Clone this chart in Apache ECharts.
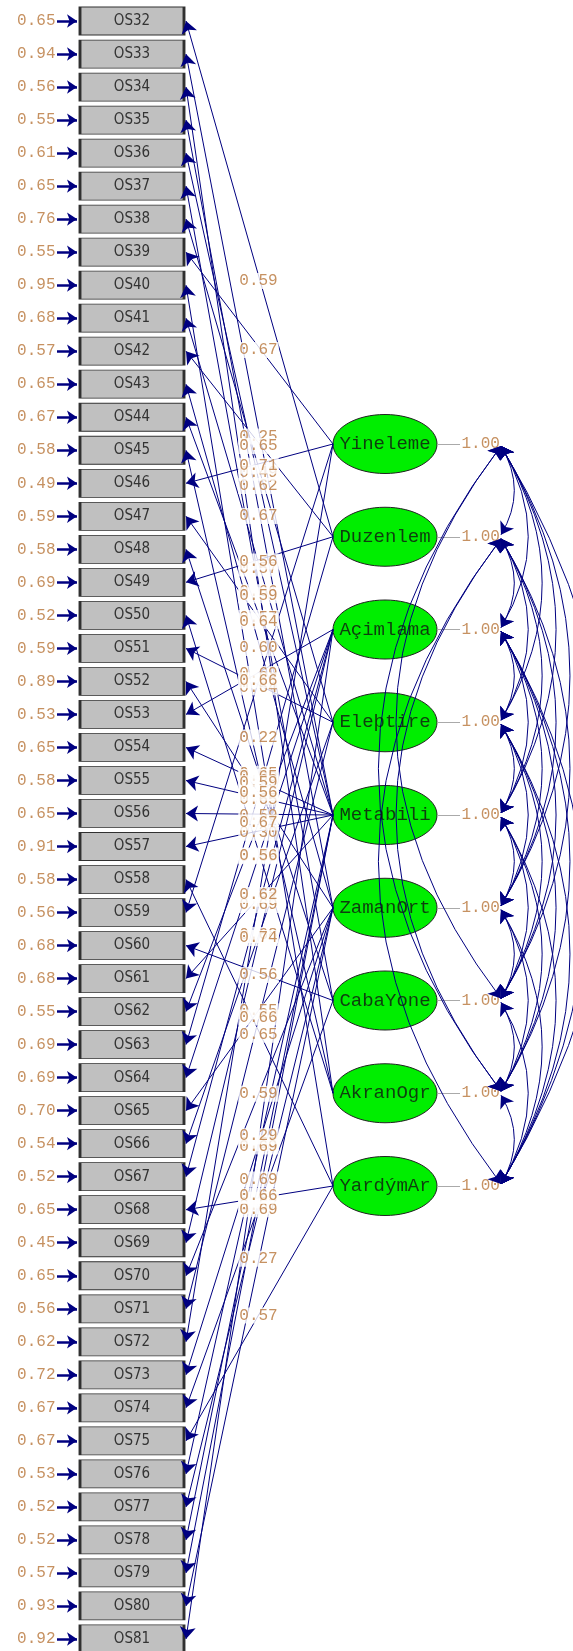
<!DOCTYPE html>
<html>
<head>
<meta charset="utf-8">
<script src="https://cdn.jsdelivr.net/npm/echarts@6/dist/echarts.min.js"></script>
<style>
  html, body { margin: 0; padding: 0; background: #fff; }
  #chart { width: 573px; height: 1651px; }
</style>
</head>
<body>
<div id="chart"></div>
<script>
// observed variables, top to bottom
const items = [
  'OS32', 'OS33', 'OS34', 'OS35', 'OS36', 'OS37', 'OS38', 'OS39', 'OS40', 'OS41',
  'OS42', 'OS43', 'OS44', 'OS45', 'OS46', 'OS47', 'OS48', 'OS49', 'OS50', 'OS51',
  'OS52', 'OS53', 'OS54', 'OS55', 'OS56', 'OS57', 'OS58', 'OS59', 'OS60', 'OS61',
  'OS62', 'OS63', 'OS64', 'OS65', 'OS66', 'OS67', 'OS68', 'OS69', 'OS70', 'OS71',
  'OS72', 'OS73', 'OS74', 'OS75', 'OS76', 'OS77', 'OS78', 'OS79', 'OS80', 'OS81'
]
// error variances (left column)
const errorVar = [
  0.65, 0.94, 0.56, 0.55, 0.61, 0.65, 0.76, 0.55, 0.95, 0.68,
  0.57, 0.65, 0.67, 0.58, 0.49, 0.59, 0.58, 0.69, 0.52, 0.59,
  0.89, 0.53, 0.65, 0.58, 0.65, 0.91, 0.58, 0.56, 0.68, 0.68,
  0.55, 0.69, 0.69, 0.70, 0.54, 0.52, 0.65, 0.45, 0.65, 0.56,
  0.62, 0.72, 0.67, 0.67, 0.53, 0.52, 0.52, 0.57, 0.93, 0.92
]
// latent variables
const factors = ['Yineleme', 'Duzenlem', 'Açimlama', 'Eleþtire', 'Metabili', 'ZamanOrt', 'CabaYone', 'AkranOgr', 'YardýmAr']
const factorVar = [1.00, 1.00, 1.00, 1.00, 1.00, 1.00, 1.00, 1.00, 1.00]
// index of the factor each item loads on
const itemFactor = [
  1, 4, 7, 5, 4, 6, 3, 0, 8, 4,
  1, 5, 4, 7, 0, 3, 6, 1, 7, 3,
  5, 2, 4, 4, 4, 4, 8, 0, 6, 4,
  2, 1, 2, 5, 3, 2, 8, 2, 5, 3,
  0, 5, 6, 8, 4, 5, 4, 4, 5, 2
]
// standardized loadings
const loadings = [
  0.59, 0.25, 0.66, 0.67, 0.62, 0.59, 0.49, 0.67, 0.22, 0.57,
  0.65, 0.60, 0.57, 0.65, 0.71, 0.64, 0.65, 0.56, 0.69, 0.64,
  0.33, 0.69, 0.59, 0.65, 0.59, 0.30, 0.65, 0.66, 0.56, 0.57,
  0.67, 0.56, 0.56, 0.55, 0.68, 0.69, 0.59, 0.74, 0.59, 0.66,
  0.62, 0.53, 0.57, 0.57, 0.69, 0.69, 0.69, 0.66, 0.27, 0.29
]
// covariance arcs that are drawn bending to the left
const leftArcs = ['0-6', '0-7', '1-7', '1-8']

// layout
const boxX = 132, boxW = 104, boxH = 28, boxTop = 21, boxStep = 33.02
const ellX = 385, ellRx = 52, ellRy = 29.5, ellTop = 444, ellStep = 92.75
const arcX = 501
const navy = '#000080'
const numColor = '#b8763a'
const mono = '"Liberation Mono", "DejaVu Sans Mono", monospace'

const by = i => boxTop + boxStep * i
const fy = k => ellTop + ellStep * k

const chart = echarts.init(document.getElementById('chart'))

// loading paths
const loadLines = items.map((name, i) => ({
  coords: [[ellX - ellRx, fy(itemFactor[i])], [boxX + boxW / 2 + 2, by(i)]]
}))
const loadLabels = items.map((name, i) => [
  (ellX - ellRx + boxX + boxW / 2) / 2,
  (by(i) + fy(itemFactor[i])) / 2 + 2,
  loadings[i].toFixed(2)
])

// error arrows
const errLines = items.map((name, i) => ({
  coords: [[57, by(i)], [boxX - boxW / 2 - 3, by(i)]]
}))
const errLabels = items.map((name, i) => [56, by(i), errorVar[i].toFixed(2)])

// covariance arcs between every pair of factors
const arcs = []
for (let a = 0; a < factors.length; a++) {
  for (let b = a + 1; b < factors.length; b++) {
    const left = leftArcs.indexOf(a + '-' + b) >= 0
    arcs.push({
      coords: [[arcX, fy(a) + 2], [arcX, fy(b) - 2]],
      lineStyle: { curveness: left ? -0.38 : 0.3 }
    })
  }
}

const varLines = factors.map((f, k) => ({ coords: [[ellX + ellRx, fy(k)], [460, fy(k)]] }))

const option = {
  animation: false,
  backgroundColor: '#fff',
  grid: { left: 0, right: 0, top: 0, bottom: 0 },
  xAxis: { type: 'value', min: 0, max: 573, show: false },
  yAxis: { type: 'value', min: 0, max: 1651, inverse: true, show: false },
  series: [
    {
      // latent ellipses
      type: 'custom',
      coordinateSystem: 'cartesian2d',
      data: factors.map((f, k) => [ellX, fy(k)]),
      renderItem: (params, api) => {
        const c = api.coord([api.value(0), api.value(1)])
        return {
          type: 'ellipse',
          shape: { cx: c[0], cy: c[1], rx: ellRx, ry: ellRy },
          style: { fill: '#00ee00', stroke: '#222', lineWidth: 1 }
        }
      },
      z: 1
    },
    {
      // observed boxes
      type: 'scatter',
      symbol: 'rect',
      symbolSize: [boxW, boxH],
      data: items.map((name, i) => [boxX, by(i), name]),
      itemStyle: { color: '#c0c0c0', borderColor: '#303030', borderWidth: 1.5, opacity: 1 },
      label: {
        show: true, position: 'inside',
        formatter: p => p.value[2],
        fontFamily: '"Liberation Sans Narrow", "DejaVu Sans Condensed", sans-serif',
        fontSize: 15, color: '#333'
      },
      z: 2
    },
    {
      type: 'lines',
      coordinateSystem: 'cartesian2d',
      data: loadLines,
      symbol: ['none', 'arrow'],
      symbolSize: 12,
      lineStyle: { color: navy, width: 1, opacity: 1 },
      z: 3
    },
    {
      type: 'lines',
      coordinateSystem: 'cartesian2d',
      data: errLines,
      symbol: ['none', 'arrow'],
      symbolSize: 10,
      lineStyle: { color: navy, width: 2.5, opacity: 1 },
      z: 3
    },
    {
      type: 'lines',
      coordinateSystem: 'cartesian2d',
      data: arcs,
      symbol: ['arrow', 'arrow'],
      symbolSize: 12,
      lineStyle: { color: navy, width: 1, opacity: 1 },
      z: 4
    },
    {
      type: 'lines',
      coordinateSystem: 'cartesian2d',
      data: varLines,
      symbol: ['none', 'none'],
      lineStyle: { color: '#aaaaaa', width: 1, opacity: 1 },
      z: 3
    },
    {
      // factor names
      type: 'scatter',
      symbolSize: 1,
      itemStyle: { color: 'rgba(0,0,0,0)' },
      data: factors.map((f, k) => [ellX, fy(k), f]),
      label: {
        show: true, position: 'inside',
        formatter: p => p.value[2],
        fontFamily: mono, fontSize: 19, color: '#111'
      },
      z: 5
    },
    {
      // factor variances
      type: 'scatter',
      symbolSize: 1,
      itemStyle: { color: 'rgba(0,0,0,0)' },
      data: factors.map((f, k) => [461, fy(k), factorVar[k].toFixed(2)]),
      label: {
        show: true, position: 'right', distance: 0,
        formatter: p => p.value[2],
        fontFamily: mono, fontSize: 16, color: numColor
      },
      z: 3
    },
    {
      // error variance labels
      type: 'scatter',
      symbolSize: 1,
      itemStyle: { color: 'rgba(0,0,0,0)' },
      data: errLabels,
      label: {
        show: true, position: 'left', distance: 0,
        formatter: p => p.value[2],
        fontFamily: mono, fontSize: 16, color: numColor
      },
      z: 5
    },
    {
      // loading labels
      type: 'scatter',
      symbolSize: 1,
      itemStyle: { color: 'rgba(0,0,0,0)' },
      data: loadLabels,
      label: {
        show: true, position: 'inside',
        formatter: p => p.value[2],
        fontFamily: mono, fontSize: 16, color: numColor,
        backgroundColor: '#fff', padding: [0, 1]
      },
      labelLayout: { hideOverlap: false },
      z: 5
    }
  ]
}

chart.setOption(option)
</script>
</body>
</html>
